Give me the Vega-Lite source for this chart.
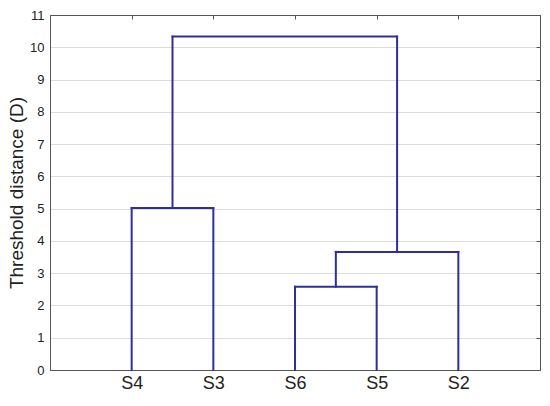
{
  "$schema": "https://vega.github.io/schema/vega-lite/v6.json",
  "width": 490,
  "height": 355,
  "autosize": "none",
  "padding": {"left": 50, "top": 15, "right": 10, "bottom": 36},
  "background": "white",
  "config": {
    "view": {"stroke": "#555", "strokeWidth": 1},
    "font": "Liberation Sans"
  },
  "resolve": {"axis": {"x": "independent", "y": "independent"}},
  "layer": [
    {
      "data": {"values": [
        {"x": 1, "x2": 1, "y": 0, "y2": 5.02},
        {"x": 2, "x2": 2, "y": 0, "y2": 5.02},
        {"x": 1, "x2": 2, "y": 5.02, "y2": 5.02},
        {"x": 3, "x2": 3, "y": 0, "y2": 2.58},
        {"x": 4, "x2": 4, "y": 0, "y2": 2.58},
        {"x": 3, "x2": 4, "y": 2.58, "y2": 2.58},
        {"x": 3.5, "x2": 3.5, "y": 2.58, "y2": 3.66},
        {"x": 5, "x2": 5, "y": 0, "y2": 3.66},
        {"x": 3.5, "x2": 5, "y": 3.66, "y2": 3.66},
        {"x": 1.5, "x2": 1.5, "y": 5.02, "y2": 10.33},
        {"x": 4.25, "x2": 4.25, "y": 3.66, "y2": 10.33},
        {"x": 1.5, "x2": 4.25, "y": 10.33, "y2": 10.33}
      ]},
      "mark": {"type": "rule", "color": "#2e2e9e", "strokeWidth": 2, "strokeCap": "square"},
      "encoding": {
        "x": {"field": "x", "type": "quantitative",
              "scale": {"domain": [0, 6], "nice": false},
              "axis": {"values": [1, 2, 3, 4, 5], "grid": false, "title": null,
                       "labelExpr": "['','S4','S3','S6','S5','S2'][datum.value]",
                       "labelFontSize": 18, "labelColor": "#222", "labelPadding": 4,
                       "tickSize": 0, "domainColor": "#555"}},
        "x2": {"field": "x2"},
        "y": {"field": "y", "type": "quantitative",
              "scale": {"domain": [0, 11], "nice": false},
              "axis": {"values": [0,1,2,3,4,5,6,7,8,9,10,11], "grid": true, "gridColor": "#dcdcdc",
                       "title": "Threshold distance (D)", "titleFontSize": 19, "titleFontWeight": "normal",
                       "titleColor": "#222", "titlePadding": 3,
                       "labelFontSize": 13, "labelColor": "#222", "labelPadding": 6,
                       "tickSize": 0, "domainColor": "#555"}},
        "y2": {"field": "y2"}
      }
    },
    {
      "data": {"values": [{"x": 1, "y": 0}]},
      "mark": {"type": "point", "opacity": 0},
      "encoding": {
        "x": {"field": "x", "type": "quantitative",
              "axis": {"orient": "top", "values": [1, 2, 3, 4, 5], "labels": false, "grid": false,
                       "title": null, "tickSize": -4, "tickColor": "#555", "domainColor": "#555"}},
        "y": {"field": "y", "type": "quantitative",
              "axis": {"orient": "right", "values": [0,1,2,3,4,5,6,7,8,9,10,11], "labels": false, "grid": false,
                       "title": null, "tickSize": -4, "tickColor": "#555", "domainColor": "#555"}}
      }
    }
  ]
}
